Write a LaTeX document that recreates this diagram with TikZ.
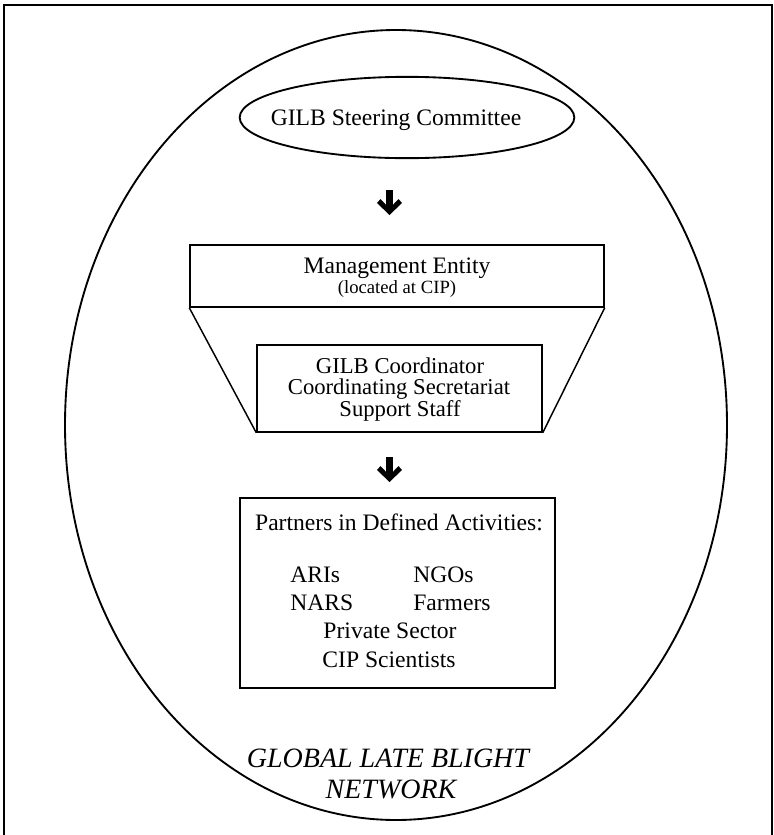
\documentclass[tikz,border=0pt]{standalone}
\usepackage{fontspec}
\setmainfont{Liberation Serif}
\usetikzlibrary{shapes.geometric}
\tikzset{
  fatarrow/.pic={\fill (-3.3,0) -- (3.3,0) -- (3.3,15) -- (9,9) -- (12.5,13) -- (0,25) -- (-12.5,13) -- (-9,9) -- (-3.3,15) -- cycle;},
  ovalline/.style={draw, line width=1.4pt, inner sep=0pt},
  boxline/.style={draw, line width=1.1pt, inner sep=0pt, rectangle},
  txt/.style={font=\fontsize{17.7}{15}\selectfont, inner sep=0pt, anchor=base},
  coordtxt/.style={font=\fontsize{17}{15}\selectfont, inner sep=0pt, anchor=base},
  smalltxt/.style={font=\fontsize{14}{14}\selectfont, inner sep=0pt, anchor=base},
  nettxt/.style={font=\fontsize{21}{21}\selectfont\itshape, inner sep=0pt, anchor=base},
}
\begin{document}
\begin{tikzpicture}[x=0.75pt,y=-0.75pt]
\useasboundingbox (0,0) rectangle (774,835);
% frame (open at the bottom)
\draw[line width=1.5pt] (4,835) -- (4,5) -- (772,5) -- (772,835);
% outer network ellipse
\node[ovalline, ellipse, minimum width=496.5pt, minimum height=592.5pt] (net) at (396,425) {};
% steering committee
\node[ovalline, ellipse, minimum width=251pt, minimum height=61pt] (steer) at (407,117.5) {};
\node[txt] (steertxt) at (396,125) {GILB Steering Committee};
% arrow 1
\pic at (389.5,190) {fatarrow};
% management entity
\node[boxline, minimum width=310.5pt, minimum height=46.5pt] (mgmt) at (397,276) {};
\node[txt] (mgmttxt) at (397,273) {Management Entity};
\node[smalltxt] (loc) at (397,293) {(located at CIP)};
% coordinator box
\node[boxline, minimum width=213.75pt, minimum height=65.25pt] (coord) at (399.5,388.5) {};
\node[coordtxt] (c1) at (400,373) {GILB Coordinator};
\node[coordtxt] (c2) at (399,394.5) {Coordinating Secretariat};
\node[coordtxt] (c3) at (400,416) {Support Staff};
\draw[line width=1.1pt] (mgmt.south west) -- (coord.south west);
\draw[line width=1.1pt] (mgmt.south east) -- (coord.south east);
% arrow 2
\pic at (389.5,457) {fatarrow};
% partners box
\node[boxline, minimum width=236.25pt, minimum height=142.5pt] (part) at (397.5,593) {};
\node[txt] (p0) at (399,530) {Partners in Defined Activities:};
\node[txt, anchor=base west] (p1) at (290,582) {ARIs};
\node[txt, anchor=base west] (p2) at (413,582) {NGOs};
\node[txt, anchor=base west] (p3) at (290,610) {NARS};
\node[txt, anchor=base west] (p4) at (413,610) {Farmers};
\node[txt] (p5) at (390,638) {Private Sector};
\node[txt] (p6) at (389,667) {CIP Scientists};
% network label
\node[nettxt] (netA) at (388,767) {GLOBAL LATE BLIGHT};
\node[nettxt] (netB) at (391,798) {NETWORK};
\end{tikzpicture}
\end{document}
